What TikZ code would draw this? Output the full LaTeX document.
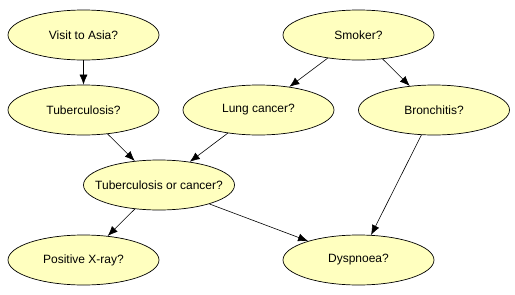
\documentclass[tikz,border=0pt]{standalone}
\usepackage{fontspec}
\setmainfont{Liberation Sans}
\usetikzlibrary{shapes.geometric,arrows.meta}
\definecolor{nodeyellow}{HTML}{FFFFBF}
\tikzset{
    bnnode/.style={ellipse, draw=black, fill=nodeyellow, line width=0.7pt,
        minimum width=151pt, minimum height=50pt, inner sep=0pt,
        font=\fontsize{12}{14}\selectfont,
        execute at begin node={\hbox to 0pt\bgroup\hss},
        execute at end node={\hss\egroup}},
    bnedge/.style={-{Latex[length=10pt,width=8pt]}, line width=0.6pt}
}
\begin{document}
\begin{tikzpicture}[x=1pt, y=-1pt]
    \useasboundingbox (0,0) rectangle (515,295);
    % 1. Các nút
    \node[bnnode] (asia)   at (83.5,35)  {Visit to Asia?};
    \node[bnnode] (smoke)  at (358.5,35) {Smoker?};
    \node[bnnode] (tub)    at (83.5,110) {Tuberculosis?};
    \node[bnnode] (lung)   at (258.5,110) {Lung cancer?};
    \node[bnnode] (bronc)  at (434,110)  {Bronchitis?};
    \node[bnnode] (either) at (159,185)  {Tuberculosis or cancer?};
    \node[bnnode] (xray)   at (83.5,260) {Positive X-ray?};
    \node[bnnode] (dysp)   at (358.5,260) {Dyspnoea?};

    % 2. Các cạnh
    \draw[bnedge] (asia) -- (tub);
    \draw[bnedge] (smoke) -- (lung);
    \draw[bnedge] (smoke) -- (bronc);
    \draw[bnedge] (tub) -- (either);
    \draw[bnedge] (lung) -- (either);
    \draw[bnedge] (either) -- (xray);
    \draw[bnedge] (either) -- (dysp);
    \draw[bnedge] (bronc) -- (dysp);
\end{tikzpicture}
\end{document}
